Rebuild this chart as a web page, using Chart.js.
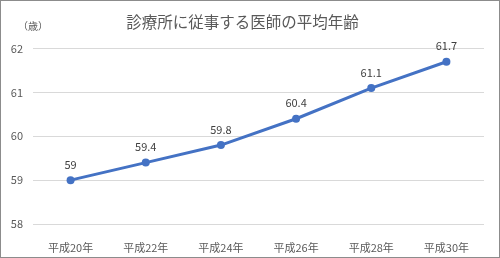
<!DOCTYPE html>
<html>
<head>
<meta charset="utf-8">
<script src="https://cdn.jsdelivr.net/npm/chart.js@4/dist/chart.umd.min.js"></script>
<style>
    body { margin: 0; background: #fff; }
    .box { width: 498px; height: 256px; border: 1px solid #8c8c8c; }
</style>
</head>
<body>
<div class="box"><canvas id="ageChart" width="498" height="256"></canvas></div>
<script>
const years = ['平成20年', '平成22年', '平成24年', '平成26年', '平成28年', '平成30年'];
const avgAge = [59, 59.4, 59.8, 60.4, 61.1, 61.7];
const yTicks = [58, 59, 60, 61, 62];

const fontFamily = '"Noto Sans CJK JP", "Noto Sans", sans-serif';

// draws value labels above points and the unit label
const labelPlugin = {
    id: 'labels',
    afterDatasetsDraw(chart) {
        const ctx = chart.ctx;
        ctx.save();
        ctx.fillStyle = '#404040';
        ctx.font = '11px ' + fontFamily;
        ctx.textAlign = 'center';
        ctx.textBaseline = 'bottom';
        chart.getDatasetMeta(0).data.forEach((pt, i) => {
            ctx.fillText(String(avgAge[i]), pt.x, pt.y - 10);
        });
        ctx.fillStyle = '#595959';
        ctx.font = '10px ' + fontFamily;
        ctx.textAlign = 'center';
        ctx.textBaseline = 'middle';
        ctx.fillText('（歳）', 32, 25);
        ctx.restore();
    }
};

new Chart(document.getElementById('ageChart').getContext('2d'), {
    type: 'line',
    data: {
        labels: years,
        datasets: [{
            data: avgAge,
            borderColor: '#4472C4',
            backgroundColor: '#4472C4',
            borderWidth: 3,
            pointRadius: 4,
            pointBorderWidth: 0,
            tension: 0,
            fill: false
        }]
    },
    options: {
        responsive: false,
        animation: false,
        layout: { padding: { right: 15 } },
        plugins: {
            legend: { display: false },
            tooltip: { enabled: false },
            title: {
                display: true,
                text: '診療所に従事する医師の平均年齢',
                color: '#595959',
                font: { family: fontFamily, size: 15.5, weight: 'normal' },
                padding: { top: 12, bottom: 17 }
            }
        },
        scales: {
            x: {
                offset: true,
                grid: { display: false },
                border: { display: false },
                ticks: { color: '#595959', font: { family: fontFamily, size: 11 }, padding: 9 },
                afterFit: s => { s.height = 33; }
            },
            y: {
                min: yTicks[0],
                max: yTicks[yTicks.length - 1],
                grid: { color: '#d9d9d9', drawTicks: false },
                border: { display: false },
                afterBuildTicks: s => { s.ticks = yTicks.map(v => ({ value: v })); },
                ticks: { color: '#595959', font: { family: fontFamily, size: 11 }, padding: 10 },
                afterFit: s => { s.width = 32; }
            }
        }
    },
    plugins: [labelPlugin]
});
</script>
</body>
</html>
